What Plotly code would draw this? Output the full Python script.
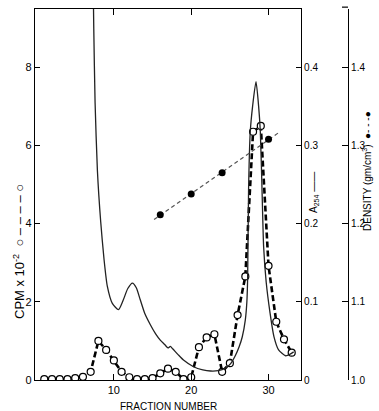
import plotly.graph_objects as go
import numpy as np

# ---------------- data ----------------
FRACTIONS = list(range(1, 34))
CPM = [0.02, 0.02, 0.02, 0.02, 0.05, 0.08, 0.21, 1.00, 0.77, 0.50,
       0.21, 0.07, 0.02, 0.02, 0.05, 0.17, 0.29, 0.21, 0.02, 0.07,
       0.84, 1.09, 1.17, 0.21, 0.43, 1.66, 2.65, 6.35, 6.50, 2.92,
       1.49, 1.04, 0.70]

A254_X = [7.30, 7.40, 7.57, 7.87, 8.30, 8.72, 9.15, 9.80, 10.6, 11.2,
          11.8, 12.4, 12.9, 13.4, 14.0, 14.7, 15.4, 16.0, 16.6, 17.0,
          17.3, 17.6, 18.3, 19.0, 20.3, 21.5, 22.5, 23.5, 24.4, 25.1,
          25.7, 26.2, 26.6, 27.0, 27.2, 27.3, 27.42, 27.64, 27.94, 28.38,
          28.72, 28.94, 29.16, 29.37, 29.7, 30.2, 30.7, 31.3, 32.2, 32.8,
          33.25]
A254_Y = [0.525, 0.45, 0.355, 0.268, 0.202, 0.155, 0.12, 0.098, 0.09, 0.102,
          0.117, 0.124, 0.118, 0.103, 0.085, 0.071, 0.059, 0.051, 0.045, 0.041,
          0.043, 0.040, 0.0325, 0.0255, 0.017, 0.013, 0.0115, 0.012, 0.015, 0.021,
          0.031, 0.0425, 0.055, 0.077, 0.10, 0.13, 0.243, 0.3175, 0.35, 0.3815,
          0.35, 0.3175, 0.243, 0.17, 0.125, 0.0855, 0.0555, 0.0385, 0.031, 0.033,
          0.036]

DENS_X = [16, 20, 24, 30]
DENS_Y = [1.2115, 1.238, 1.265, 1.308]
FIT_RANGE = [15.2, 31.3]

X_TICKS = [10, 20, 30]
CPM_TICKS = [0, 2, 4, 6, 8]
A_TICKS = [0, 0.1, 0.2, 0.3, 0.4]
A_TICKTEXT = ["0", "0.1", "0.2", "0.3", "0.4"]
D_TICKS = [1.0, 1.1, 1.2, 1.3, 1.4]
D_TICKTEXT = ["1.0", "1.1", "1.2", "1.3", "1.4"]

# ---------------- figure ----------------
FONT = "Liberation Sans"
YMAX = 9.49

coef = np.polyfit(DENS_X, DENS_Y, 1)
fit_x = np.array(FIT_RANGE)
fit_y = np.polyval(coef, fit_x)

fig = go.Figure()

fig.add_trace(go.Scatter(
    x=A254_X, y=A254_Y, yaxis="y2", mode="lines",
    line=dict(color="#222", width=1.3, shape="spline", smoothing=0.6),
    showlegend=False, hoverinfo="skip"))

fig.add_trace(go.Scatter(
    x=fit_x, y=fit_y, yaxis="y3", mode="lines",
    line=dict(color="#555", width=1.2, dash="4px,3px"),
    showlegend=False, hoverinfo="skip"))

fig.add_trace(go.Scatter(
    x=DENS_X, y=DENS_Y, yaxis="y3", mode="markers",
    marker=dict(color="black", size=7),
    showlegend=False))

fig.add_trace(go.Scatter(
    x=FRACTIONS, y=CPM, mode="lines+markers",
    line=dict(color="black", width=2.6, dash="6px,3px"),
    marker=dict(symbol="circle", size=7, color="white",
                line=dict(color="black", width=1.2)),
    showlegend=False))

L, R, T, B = 35, 24, 9, 31
W, H = 379, 411
pw = W - L - R
ph = H - T - B
xdom_end = (301 - L) / pw
dens_pos = (348 - L) / pw

axis_common = dict(showgrid=False, zeroline=False, showline=True,
                   linecolor="black", linewidth=1.2, ticks="inside",
                   tickcolor="black", tickwidth=1.2)
tf11 = dict(family=FONT, size=11, color="black")
tf10 = dict(family=FONT, size=10, color="black")

fig.update_layout(
    width=W, height=H,
    margin=dict(l=L, r=R, t=T, b=B),
    plot_bgcolor="white", paper_bgcolor="white",
    xaxis=dict(domain=[0, xdom_end], range=[-0.2, 34.2], tickvals=X_TICKS,
               ticklen=6, mirror="ticks", tickfont=tf11, **axis_common),
    yaxis=dict(range=[0, YMAX], tickvals=CPM_TICKS, ticklen=5, tickfont=tf11,
               **axis_common),
    yaxis2=dict(range=[0, YMAX / 20], overlaying="y", side="right", anchor="x",
                tickvals=A_TICKS, ticktext=A_TICKTEXT, ticklen=5, tickfont=tf10,
                **axis_common),
    yaxis3=dict(range=[1.0, 1.0 + YMAX / 20], overlaying="y", side="right",
                anchor="free", position=dens_pos, ticklabelstandoff=0,
                tickvals=D_TICKS, ticktext=D_TICKTEXT, ticklen=6, tickfont=tf10,
                **axis_common),
    font=dict(family=FONT, color="black"),
)

fig.add_shape(type="line", xref="paper", yref="paper",
              x0=dens_pos - 6 / pw, x1=dens_pos, y0=1.005, y1=1.005,
              line=dict(color="black", width=1.2))

fig.add_annotation(text="CPM x 10<sup>-2</sup>  ○ – – – – ○", xref="paper", yref="paper",
                   x=(9 - L) / pw, y=(380 - 252) / ph, textangle=-90,
                   showarrow=False, font=dict(family=FONT, size=13, color="black"))
fig.add_annotation(text="A<sub>254</sub> ——", xref="paper", yref="paper",
                   x=(322 - L) / pw, y=(380 - 193) / ph, textangle=-90,
                   showarrow=False, font=dict(family=FONT, size=10, color="black"))
fig.add_annotation(text="DENSITY (gm/cm<sup>3</sup>)  ●- - -●", xref="paper", yref="paper",
                   x=(375 - L) / pw, y=(380 - 171) / ph, textangle=-90,
                   showarrow=False, font=dict(family=FONT, size=10, color="black"))
fig.add_annotation(text="FRACTION NUMBER", xref="paper", yref="paper",
                   x=(168 - L) / pw, y=(380 - 399) / ph, yanchor="top",
                   showarrow=False, font=dict(family=FONT, size=10, color="black"))

fig.write_html("out.html")
